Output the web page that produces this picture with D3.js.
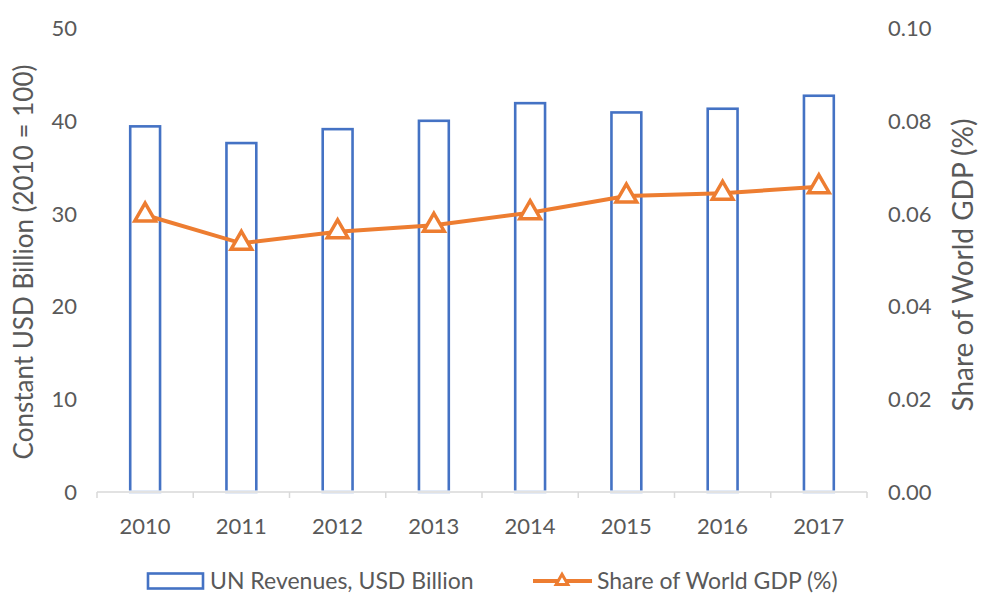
<!DOCTYPE html>
<html>
<head>
<meta charset="utf-8">
<script src="https://cdn.jsdelivr.net/npm/d3@7"></script>
<style>
  body { margin: 0; background: #fff; }
  text { font-family: Lato, "Open Sans", sans-serif; fill: #595959; }
</style>
</head>
<body>
<div id="chart"></div>
<script>
// Data
var years = ["2010", "2011", "2012", "2013", "2014", "2015", "2016", "2017"];
var revenues = [39.4, 37.6, 39.1, 40.0, 41.9, 40.9, 41.3, 42.7];
var gdpShare = [0.0597, 0.0536, 0.0561, 0.0575, 0.0602, 0.0638, 0.0644, 0.0658];
var leftTicks = [0, 10, 20, 30, 40, 50];
var rightTicks = [0, 0.02, 0.04, 0.06, 0.08, 0.10];

var width = 981, height = 596;
var margin = {top: 28, left: 97, right: 114, bottom: 104};
var plotW = width - margin.left - margin.right;
var plotH = height - margin.top - margin.bottom;

var svg = d3.select("#chart").append("svg")
    .attr("width", width)
    .attr("height", height);

var g = svg.append("g")
    .attr("transform", "translate(" + margin.left + "," + margin.top + ")");

var x = d3.scaleBand().domain(years).range([0, plotW]).paddingInner(0.69).paddingOuter(0.345);
var xStep = d3.scaleBand().domain(years).range([0, plotW]);
var yL = d3.scaleLinear().domain([0, 50]).range([plotH, 0]);
var yR = d3.scaleLinear().domain([0, 0.10]).range([plotH, 0]);

// Bars (hollow, blue outline)
g.selectAll("rect.bar")
    .data(years)
    .enter()
    .append("rect")
    .attr("class", "bar")
    .attr("x", function(d) { return x(d); })
    .attr("y", function(d, i) { return yL(revenues[i]); })
    .attr("width", x.bandwidth())
    .attr("height", function(d, i) { return plotH - yL(revenues[i]); })
    .attr("fill", "none")
    .attr("stroke", "#4472C4")
    .attr("stroke-width", 2.6)

// X axis line and ticks, drawn over the bar bottoms
var xAxis = g.append("g").attr("transform", "translate(0," + plotH + ")");
xAxis.append("rect")
    .attr("x", 0).attr("y", -1.5)
    .attr("width", plotW).attr("height", 3)
    .attr("fill", "#fff")
xAxis.append("line")
    .attr("x1", 0).attr("x2", plotW)
    .attr("stroke", "#D9D9D9").attr("stroke-width", 1.5)
xAxis.selectAll("line.tick")
    .data(years.concat(["end"]))
    .enter()
    .append("line")
    .attr("class", "tick")
    .attr("x1", function(d, i) { return i * xStep.step(); })
    .attr("x2", function(d, i) { return i * xStep.step(); })
    .attr("y1", 0).attr("y2", 6)
    .attr("stroke", "#D9D9D9").attr("stroke-width", 1.5)
xAxis.selectAll("text")
    .data(years)
    .enter()
    .append("text")
    .attr("x", function(d) { return xStep(d) + xStep.bandwidth() / 2; })
    .attr("y", 42)
    .attr("text-anchor", "middle")
    .style("font-size", "22px")
    .text(function(d) { return d; })

// Left axis labels
g.selectAll("text.yl")
    .data(leftTicks)
    .enter()
    .append("text")
    .attr("class", "yl")
    .attr("x", -20)
    .attr("y", function(d) { return yL(d); })
    .attr("dy", "0.36em")
    .attr("text-anchor", "end")
    .style("font-size", "22px")
    .text(function(d) { return d; })

// Right axis labels
g.selectAll("text.yr")
    .data(rightTicks)
    .enter()
    .append("text")
    .attr("class", "yr")
    .attr("x", plotW + 21)
    .attr("y", function(d) { return yR(d); })
    .attr("dy", "0.36em")
    .attr("text-anchor", "start")
    .style("font-size", "22px")
    .text(function(d) { return d3.format(".2f")(d); })

// Axis titles
svg.append("text")
    .attr("transform", "translate(33,262) rotate(-90)")
    .attr("text-anchor", "middle")
    .style("font-size", "26px")
    .text("Constant USD Billion (2010 = 100)")

svg.append("text")
    .attr("transform", "translate(973,265) rotate(-90)")
    .attr("text-anchor", "middle")
    .style("font-size", "28px")
    .text("Share of World GDP (%)")

// Line
var line = d3.line()
    .x(function(d, i) { return xStep(years[i]) + xStep.bandwidth() / 2; })
    .y(function(d) { return yR(d); })

g.append("path")
    .datum(gdpShare)
    .attr("d", line)
    .attr("fill", "none")
    .attr("stroke", "#ED7D31")
    .attr("stroke-width", 4)

var tri = d3.symbol().type(d3.symbolTriangle).size(185);

g.selectAll("path.marker")
    .data(gdpShare)
    .enter()
    .append("path")
    .attr("class", "marker")
    .attr("d", tri)
    .attr("transform", function(d, i) {
        return "translate(" + (xStep(years[i]) + xStep.bandwidth() / 2) + "," + yR(d) + ")";
    })
    .attr("fill", "#fff")
    .attr("stroke", "#ED7D31")
    .attr("stroke-width", 3.5)

// Legend
var legendY = 581;
var leg = svg.append("g");
leg.append("rect")
    .attr("x", 148).attr("y", legendY - 7.5)
    .attr("width", 55).attr("height", 15)
    .attr("fill", "none")
    .attr("stroke", "#4472C4")
    .attr("stroke-width", 2.6)
leg.append("text")
    .attr("x", 210).attr("y", legendY)
    .attr("dy", "0.36em")
    .style("font-size", "23px")
    .text("UN Revenues, USD Billion")

leg.append("line")
    .attr("x1", 533).attr("x2", 592)
    .attr("y1", legendY).attr("y2", legendY)
    .attr("stroke", "#ED7D31")
    .attr("stroke-width", 4)
leg.append("path")
    .attr("d", d3.symbol().type(d3.symbolTriangle).size(60))
    .attr("transform", "translate(562," + legendY + ")")
    .attr("fill", "#fff")
    .attr("stroke", "#ED7D31")
    .attr("stroke-width", 3)
leg.append("text")
    .attr("x", 597).attr("y", legendY)
    .attr("dy", "0.36em")
    .style("font-size", "23px")
    .text("Share of World GDP (%)")
</script>
</body>
</html>
